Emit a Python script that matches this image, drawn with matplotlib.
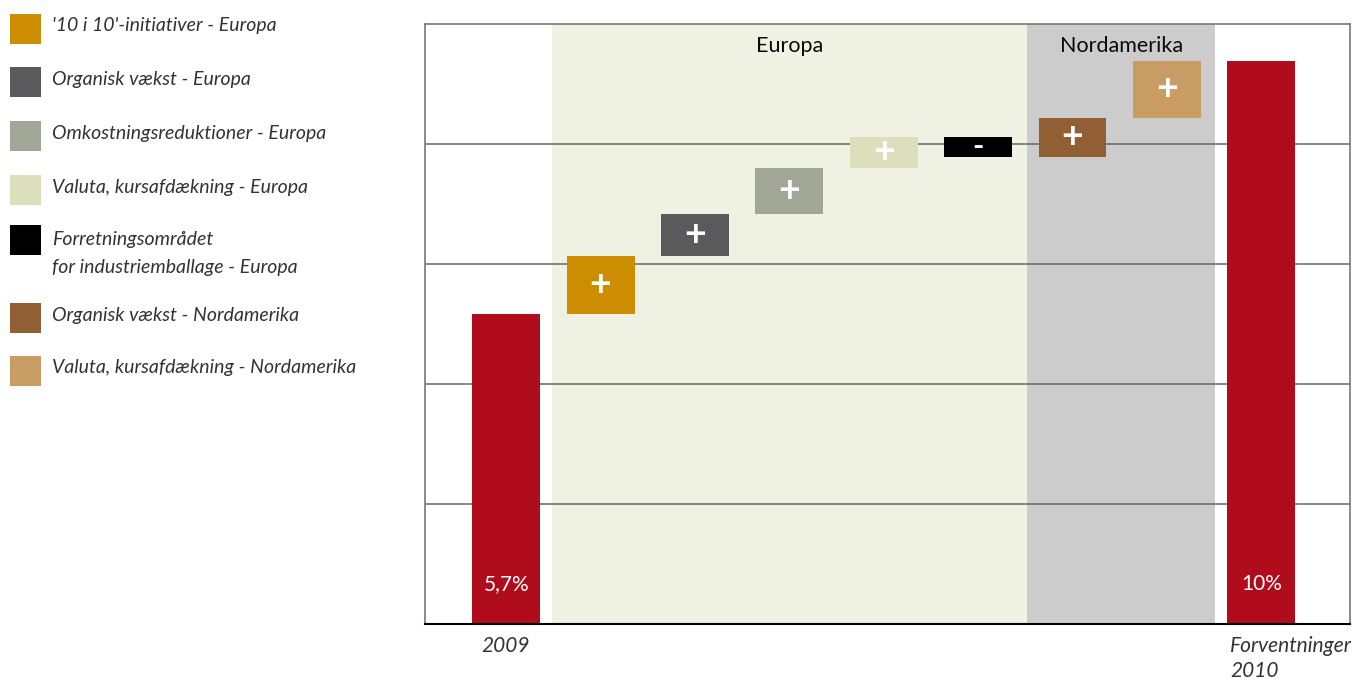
import numpy as np
import matplotlib.pyplot as plt
from matplotlib.patches import Rectangle

plt.rcParams['font.family'] = ['Lato', 'DejaVu Sans']

# waterfall data (chart units: gridlines at 1..4)
start_value = 2.58
end_value = 4.69
start_label = '5,7%'
end_label = '10%'
categories = ["'10 i 10'-initiativer - Europa",
              "Organisk vækst - Europa",
              "Omkostningsreduktioner - Europa",
              "Valuta, kursafdækning - Europa",
              "Forretningsområdet\nfor industriemballage - Europa",
              "Organisk vækst - Nordamerika",
              "Valuta, kursafdækning - Nordamerika"]
deltas = [0.49, 0.35, 0.38, 0.26, -0.17, 0.33, 0.47]
colors = ['#CC8E00', '#5A5A5C', '#A2A697', '#DBDFBB', '#000000', '#925F35', '#C89C63']
red = '#B10C1C'
regions = ['Europa', 'Nordamerika']
region_spans = [(0.49, 5.52), (5.52, 7.51)]
region_colors = ['#EFF2E2', '#CCCCCC']

fig = plt.figure(figsize=(13.63, 6.81), dpi=100)
ax = fig.add_axes([425 / 1363, 57 / 681, 925 / 1363, 600 / 681])

for name, (x0, x1), c in zip(regions, region_spans, region_colors):
    ax.axvspan(x0, x1, color=c, zorder=0, lw=0)
    ax.text((x0 + x1) / 2, 4.82, name, ha='center', va='center', fontsize=15.5, color='#0A0A0A')

for y in [1, 2, 3, 4]:
    ax.axhline(y, color='#666666', lw=1.1, zorder=1)

w = 0.72
ax.bar(0, start_value, width=w, color=red, zorder=2)
ax.bar(8, end_value, width=w, color=red, zorder=2)
ax.text(0, 0.33, start_label, ha='center', va='center', color='white', fontsize=15)
ax.text(8, 0.33, end_label, ha='center', va='center', color='white', fontsize=15)

cum = start_value
for i, (d, c) in enumerate(zip(deltas, colors)):
    bottom = cum if d > 0 else cum + d
    ax.bar(i + 1, abs(d), bottom=bottom, width=w, color=c, zorder=2)
    ax.text(i + 1, bottom + abs(d) / 2, '+' if d > 0 else '-', ha='center', va='center',
            color='white', fontsize=27 if d > 0 else 22, fontweight='bold', zorder=3)
    cum += d

ax.set_xlim(-0.86, 8.94)
ax.set_ylim(0, 5)
ax.set_xticks([])
ax.set_yticks([])
for s in ['left', 'top', 'right']:
    ax.spines[s].set_color('#777777')
    ax.spines[s].set_linewidth(1.2)
ax.spines['bottom'].set_color('black')
ax.spines['bottom'].set_linewidth(1.5)

ax.text(-0.26, -0.18, '2009', ha='left', va='center', fontsize=15, style='italic', color='#333333')
ax.text(7.67, -0.18, 'Forventninger', ha='left', va='center', fontsize=15, style='italic', color='#333333')
ax.text(7.67, -0.39, '2010', ha='left', va='center', fontsize=15, style='italic', color='#333333')

# legend on the left, in pixel coordinates
lax = fig.add_axes([0, 0, 1, 1])
lax.set_xlim(0, 1363)
lax.set_ylim(681, 0)
lax.axis('off')
ys = [29, 82, 136, 190, 240, 318, 371]
for y, lab, c in zip(ys, categories, colors):
    lax.add_patch(Rectangle((10, y - 15), 31, 30, color=c, lw=0))
    if '\n' in lab:
        lax.text(52, y - 9, lab, ha='left', va='top', fontsize=14, style='italic',
                 color='#333333', linespacing=1.75)
        continue
    lax.text(52, y - 3, lab, ha='left', va='center', fontsize=14, style='italic', color='#333333')

fig.savefig('out.png', dpi=100)
